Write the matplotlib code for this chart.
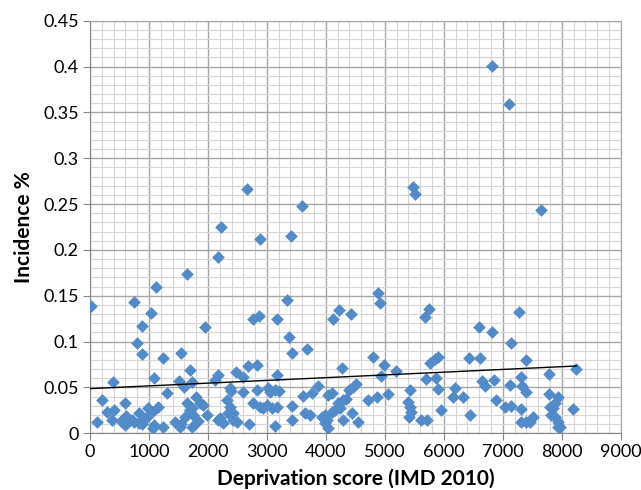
import matplotlib
matplotlib.use("Agg")
import matplotlib.pyplot as plt
import numpy as np
from matplotlib.ticker import MultipleLocator

plt.rcParams['font.family'] = ['Lato', 'DejaVu Sans']

# Deprivation score (IMD 2010) and incidence %
deprivation = [
    20, 124, 198, 283, 367, 384, 412, 520, 593, 590, 610, 650, 706, 751, 751,
    802, 830, 830, 876, 876, 876, 950, 989,
    1028, 1045, 1074, 1085, 1085, 1119, 1147, 1243, 1243, 1311, 1441, 1508,
    1525, 1537, 1548, 1598, 1610, 1638, 1638, 1695, 1695, 1723, 1723, 1723,
    1750, 1797, 1836, 1864, 1921, 1949, 1988,
    2119, 2164, 2175, 2175, 2203, 2226, 2260, 2316, 2344, 2373, 2373, 2390,
    2418, 2429, 2475, 2497, 2599, 2599, 2666, 2684, 2700, 2757, 2768, 2825,
    2836, 2870, 2876, 2881, 2938, 2994,
    3022, 3051, 3079, 3136, 3136, 3164, 3164, 3164, 3209, 3333, 3378, 3407,
    3418, 3418, 3418, 3598, 3616, 3644, 3683, 3729, 3757, 3870, 3927, 3983,
    3983,
    4011, 4039, 4039, 4096, 4096, 4124, 4152, 4209, 4226, 4237, 4282, 4294,
    4294, 4339, 4395, 4419, 4435, 4452, 4508, 4548, 4718, 4802, 4859, 4887,
    4915, 4927, 4983,
    5056, 5186, 5395, 5424, 5424, 5452, 5412, 5480, 5520, 5621, 5712, 5678,
    5746, 5695, 5768, 5853, 5904, 5876, 5904, 5960,
    6158, 6186, 6328, 6424, 6452, 6599, 6610, 6650, 6706, 6819, 6825, 6858,
    6887,
    7045, 7119, 7113, 7136, 7135, 7277, 7306, 7322, 7316, 7390, 7401, 7316,
    7401, 7458, 7514, 7655, 7785, 7785, 7797, 7825, 7853, 7881, 7881, 7938,
    7938, 7938, 7966,
    8192, 8249,
]
incidence = [
    0.139, 0.012, 0.036, 0.0236, 0.0145, 0.056, 0.025, 0.013, 0.033, 0.009,
    0.019, 0.012, 0.0145, 0.143, 0.012, 0.098, 0.022, 0.011, 0.1167, 0.0865,
    0.010, 0.017, 0.0273,
    0.131, 0.0236, 0.0055, 0.060, 0.0095, 0.160, 0.029, 0.082, 0.0073,
    0.0436, 0.0127, 0.057, 0.0065, 0.088, 0.0098, 0.051, 0.018, 0.174, 0.0327,
    0.069, 0.025, 0.0563, 0.0273, 0.0065, 0.020, 0.040, 0.013, 0.0327, 0.031,
    0.1156, 0.020,
    0.058, 0.192, 0.0636, 0.0145, 0.0164, 0.225, 0.011, 0.036, 0.0218, 0.049,
    0.029, 0.046, 0.0145, 0.0218, 0.067, 0.0127, 0.0618, 0.0454, 0.266,
    0.0734, 0.0102, 0.125, 0.0327, 0.047, 0.0745, 0.128, 0.212, 0.029, 0.0273,
    0.031,
    0.049, 0.045, 0.0273, 0.047, 0.008, 0.125, 0.0636, 0.029, 0.046, 0.145,
    0.105, 0.215, 0.088, 0.0298, 0.0145, 0.248, 0.0407, 0.0218, 0.0916, 0.020,
    0.0436, 0.0516, 0.018, 0.020, 0.011,
    0.0145, 0.0055, 0.0418, 0.0443, 0.0236, 0.125, 0.0254, 0.0327, 0.135,
    0.0273, 0.0716, 0.0363, 0.0145, 0.037, 0.047, 0.130, 0.0218, 0.051, 0.054,
    0.0127, 0.0364, 0.0835, 0.040, 0.153, 0.142, 0.0625, 0.075,
    0.0429, 0.068, 0.0345, 0.047, 0.029, 0.0236, 0.0175, 0.269, 0.261, 0.0145,
    0.0145, 0.127, 0.136, 0.0596, 0.077, 0.081, 0.0835, 0.0607, 0.048, 0.0254,
    0.040, 0.049, 0.040, 0.082, 0.020, 0.1156, 0.082, 0.057, 0.052, 0.401,
    0.111, 0.058, 0.0363,
    0.029, 0.053, 0.359, 0.0985, 0.0298, 0.132, 0.0617, 0.052, 0.026, 0.045,
    0.080, 0.012, 0.0127, 0.012, 0.0175, 0.243, 0.0647, 0.0425, 0.029, 0.020,
    0.0273, 0.0327, 0.018, 0.040, 0.0127, 0.0073, 0.0073,
    0.0265, 0.070,
]

x = np.array(deprivation, dtype=float)
y = np.array(incidence, dtype=float)

fig = plt.figure(figsize=(6.41, 4.9), dpi=100)
ax = fig.add_axes([0.1404, 0.1157, 0.8279, 0.8421])

# grid (Excel style: major + minor)
ax.set_axisbelow(True)
ax.xaxis.set_major_locator(MultipleLocator(1000))
ax.xaxis.set_minor_locator(MultipleLocator(200))
ax.yaxis.set_major_locator(MultipleLocator(0.05))
ax.yaxis.set_minor_locator(MultipleLocator(0.01))
ax.grid(which='major', color='#a6a6a6', linewidth=1.0)
ax.grid(which='minor', color='#d6d6d6', linewidth=0.8)

ax.scatter(x, y, marker='D', s=42, color='#538bc9', linewidths=0, zorder=3)

# linear trendline
slope, intercept = np.polyfit(x, y, 1)
xs = np.array([0, x.max()])
ax.plot(xs, slope * xs + intercept, color='black', linewidth=1.0, zorder=4)

ax.set_xlim(0, 9000)
ax.set_ylim(0, 0.45)
ax.set_yticks(np.arange(0, 0.451, 0.05))
ax.set_yticklabels(['0', '0.05', '0.1', '0.15', '0.2', '0.25', '0.3',
                    '0.35', '0.4', '0.45'])

for s in ax.spines.values():
    s.set_color('#a6a6a6')
ax.spines['left'].set_color('#868686')
ax.spines['bottom'].set_color('#868686')

ax.tick_params(which='major', length=5, color='#868686', labelsize=13, pad=3)
ax.tick_params(which='minor', length=0)

ax.set_xlabel('Deprivation score (IMD 2010)', fontsize=15, fontweight='bold',
              labelpad=6)
ax.set_ylabel('Incidence %', fontsize=15, fontweight='bold', labelpad=7)

fig.savefig('out.png', dpi=100)
